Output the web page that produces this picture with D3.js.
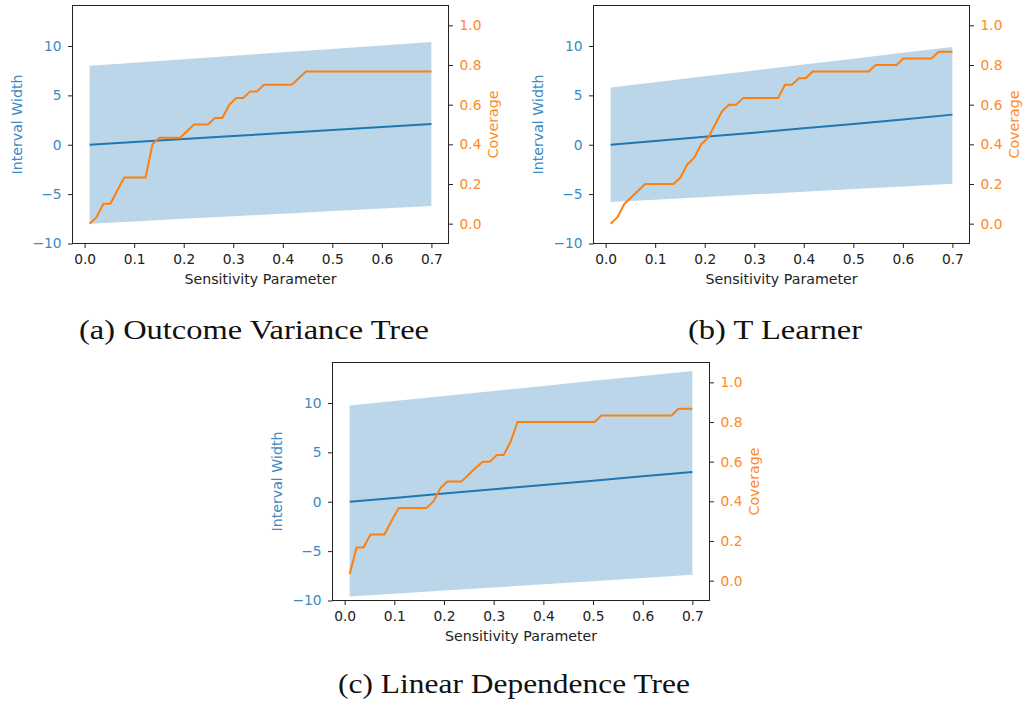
<!DOCTYPE html>
<html>
<head>
<meta charset="utf-8">
<script src="https://cdn.jsdelivr.net/npm/d3@7"></script>
<style>
  body { margin: 0; background: #fff; }
  svg { display: block; }
</style>
</head>
<body>
<svg></svg>
<script>
// sensitivity parameter grid (50 points)
var sensitivity = [0.010, 0.024, 0.038, 0.052, 0.066, 0.080, 0.094, 0.109, 0.123, 0.137,
  0.151, 0.165, 0.179, 0.193, 0.207, 0.221, 0.235, 0.249, 0.263, 0.278,
  0.292, 0.306, 0.320, 0.334, 0.348, 0.362, 0.376, 0.390, 0.404, 0.418,
  0.432, 0.447, 0.461, 0.475, 0.489, 0.503, 0.517, 0.531, 0.545, 0.559,
  0.573, 0.587, 0.601, 0.616, 0.630, 0.644, 0.658, 0.672, 0.686, 0.700];

// coverage per panel
var coverageOVT = [0, 0.033, 0.1, 0.1, 0.167, 0.233, 0.233, 0.233, 0.233, 0.4,
  0.433, 0.433, 0.433, 0.433, 0.467, 0.5, 0.5, 0.5, 0.533, 0.533,
  0.6, 0.633, 0.633, 0.667, 0.667, 0.7, 0.7, 0.7, 0.7, 0.7,
  0.733, 0.767, 0.767, 0.767, 0.767, 0.767, 0.767, 0.767, 0.767, 0.767,
  0.767, 0.767, 0.767, 0.767, 0.767, 0.767, 0.767, 0.767, 0.767, 0.767];
var coverageTL = [0, 0.033, 0.1, 0.133, 0.167, 0.2, 0.2, 0.2, 0.2, 0.2,
  0.233, 0.3, 0.333, 0.4, 0.433, 0.5, 0.567, 0.6, 0.6, 0.633,
  0.633, 0.633, 0.633, 0.633, 0.633, 0.7, 0.7, 0.733, 0.733, 0.767,
  0.767, 0.767, 0.767, 0.767, 0.767, 0.767, 0.767, 0.767, 0.8, 0.8,
  0.8, 0.8, 0.833, 0.833, 0.833, 0.833, 0.833, 0.867, 0.867, 0.867];
var coverageLDT = [0.033, 0.167, 0.167, 0.233, 0.233, 0.233, 0.3, 0.367, 0.367, 0.367,
  0.367, 0.367, 0.4, 0.467, 0.5, 0.5, 0.5, 0.533, 0.567, 0.6,
  0.6, 0.633, 0.633, 0.7, 0.8, 0.8, 0.8, 0.8, 0.8, 0.8,
  0.8, 0.8, 0.8, 0.8, 0.8, 0.8, 0.833, 0.833, 0.833, 0.833,
  0.833, 0.833, 0.833, 0.833, 0.833, 0.833, 0.833, 0.867, 0.867, 0.867];

// interval (centre line and band) read at these sensitivity values
var bandX = [0.01, 0.1, 0.2, 0.3, 0.4, 0.5, 0.6, 0.7];
var centerOVT = [0, 0.27, 0.58, 0.88, 1.19, 1.49, 1.80, 2.1];
var upperOVT = [8.0, 8.31, 8.66, 9.01, 9.36, 9.70, 10.05, 10.4];
var lowerOVT = [-8.0, -7.77, -7.5, -7.24, -6.98, -6.72, -6.46, -6.2];
var centerTL = [0, 0.38, 0.80, 1.22, 1.66, 2.10, 2.56, 3.05];
var upperTL = [5.8, 6.33, 6.93, 7.52, 8.12, 8.71, 9.31, 9.9];
var lowerTL = [-5.8, -5.56, -5.29, -5.02, -4.75, -4.49, -4.22, -3.95];
var centerLDT = [0, 0.39, 0.83, 1.26, 1.7, 2.13, 2.57, 3.0];
var upperLDT = [9.75, 10.2, 10.71, 11.22, 11.73, 12.24, 12.74, 13.25];
var lowerLDT = [-9.6, -9.31, -9.0, -8.68, -8.36, -8.04, -7.72, -7.4];

var xTicks = [0, 0.1, 0.2, 0.3, 0.4, 0.5, 0.6, 0.7];
var widthTicks = [-10, -5, 0, 5, 10];
var coverageTicks = [0, 0.2, 0.4, 0.6, 0.8, 1.0];
var captions = ["(a) Outcome Variance Tree", "(b) T Learner", "(c) Linear Dependence Tree"];

var width = 1023,
  height = 703;

var blue = "#1f77b4",
  orange = "#ff7f0e",
  blueText = "#3a8bc4",
  orangeText = "#ff8a26",
  ink = "#222";

var svg = d3.select("svg").attr("width", width).attr("height", height);
svg.append("rect").attr("width", width).attr("height", height).attr("fill", "#fff");

var panels = [
  { left: 72.5, top: 5.5, w: 376, h: 238, capX: 254, capY: 339, capLen: 350,
    cov: coverageOVT, mid: centerOVT, lo: lowerOVT, hi: upperOVT, caption: captions[0] },
  { left: 593.5, top: 5.5, w: 376, h: 238, capX: 775, capY: 339, capLen: 174,
    cov: coverageTL, mid: centerTL, lo: lowerTL, hi: upperTL, caption: captions[1] },
  { left: 332.5, top: 362.5, w: 377, h: 238, capX: 514, capY: 693, capLen: 352,
    cov: coverageLDT, mid: centerLDT, lo: lowerLDT, hi: upperLDT, caption: captions[2] }
];

panels.forEach(function (p) {
  var g = svg.append("g").attr("transform", "translate(" + p.left + "," + p.top + ")");

  var x = d3.scaleLinear().domain([-0.0245, 0.7345]).range([0, p.w]);
  var yL = d3.scaleLinear().domain([-10, 14.1]).range([p.h, 0]);
  var yR = d3.scaleLinear().domain([-0.1, 1.1]).range([p.h, 0]);

  var band = d3.area()
    .x(function (d, i) { return x(bandX[i]); })
    .y0(function (d, i) { return yL(p.lo[i]); })
    .y1(function (d, i) { return yL(p.hi[i]); });

  g.append("path")
    .attr("d", band(bandX))
    .attr("fill", blue)
    .attr("fill-opacity", 0.3);

  var midLine = d3.line()
    .x(function (d, i) { return x(bandX[i]); })
    .y(function (d) { return yL(d); });

  g.append("path")
    .attr("d", midLine(p.mid))
    .attr("fill", "none")
    .attr("stroke", blue)
    .attr("stroke-width", 2);

  var covLine = d3.line()
    .x(function (d, i) { return x(sensitivity[i]); })
    .y(function (d) { return yR(d); });

  g.append("path")
    .attr("d", covLine(p.cov))
    .attr("fill", "none")
    .attr("stroke", orange)
    .attr("stroke-width", 2)
    .attr("stroke-linejoin", "round");

  // axes
  var xAxis = g.append("g")
    .attr("transform", "translate(0," + p.h + ")")
    .call(d3.axisBottom(x).tickValues(xTicks).tickFormat(d3.format(".1f")).tickSize(4.5).tickPadding(6.5));

  var leftAxis = g.append("g")
    .call(d3.axisLeft(yL).tickValues(widthTicks).tickFormat(d3.format("d")).tickSize(4.5).tickPadding(6.5));

  var rightAxis = g.append("g")
    .attr("transform", "translate(" + p.w + ",0)")
    .call(d3.axisRight(yR).tickValues(coverageTicks).tickFormat(d3.format(".1f")).tickSize(4.5).tickPadding(6.5));

  [xAxis, leftAxis, rightAxis].forEach(function (a) {
    a.select(".domain").remove();
    a.selectAll("line").attr("stroke", ink);
    a.selectAll("text").attr("font-family", "DejaVu Sans").attr("font-size", "13.8px");
  });
  xAxis.selectAll("text").attr("fill", ink);
  leftAxis.selectAll("text").attr("fill", blueText);
  rightAxis.selectAll("text").attr("fill", orangeText);

  g.append("rect")
    .attr("width", p.w)
    .attr("height", p.h)
    .attr("fill", "none")
    .attr("stroke", ink)
    .attr("stroke-width", 1);

  g.append("text")
    .attr("x", p.w / 2)
    .attr("y", p.h + 40)
    .attr("text-anchor", "middle")
    .attr("font-family", "DejaVu Sans")
    .attr("font-size", "14.2px")
    .attr("fill", ink)
    .text("Sensitivity Parameter");

  g.append("text")
    .attr("transform", "translate(-56," + p.h / 2 + ") rotate(-90)")
    .attr("text-anchor", "middle")
    .attr("dy", "0.4em")
    .attr("font-family", "DejaVu Sans")
    .attr("font-size", "14.2px")
    .attr("fill", blueText)
    .text("Interval Width");

  g.append("text")
    .attr("transform", "translate(" + (p.w + 45) + "," + p.h / 2 + ") rotate(-90)")
    .attr("text-anchor", "middle")
    .attr("dy", "0.32em")
    .attr("font-family", "DejaVu Sans")
    .attr("font-size", "14.2px")
    .attr("fill", orangeText)
    .text("Coverage");

  svg.append("text")
    .attr("x", p.capX)
    .attr("y", p.capY)
    .attr("text-anchor", "middle")
    .attr("font-family", "Liberation Serif")
    .attr("font-size", "28px")
    .attr("fill", "#111")
    .attr("textLength", p.capLen)
    .attr("lengthAdjust", "spacingAndGlyphs")
    .text(p.caption);
});
</script>
</body>
</html>
